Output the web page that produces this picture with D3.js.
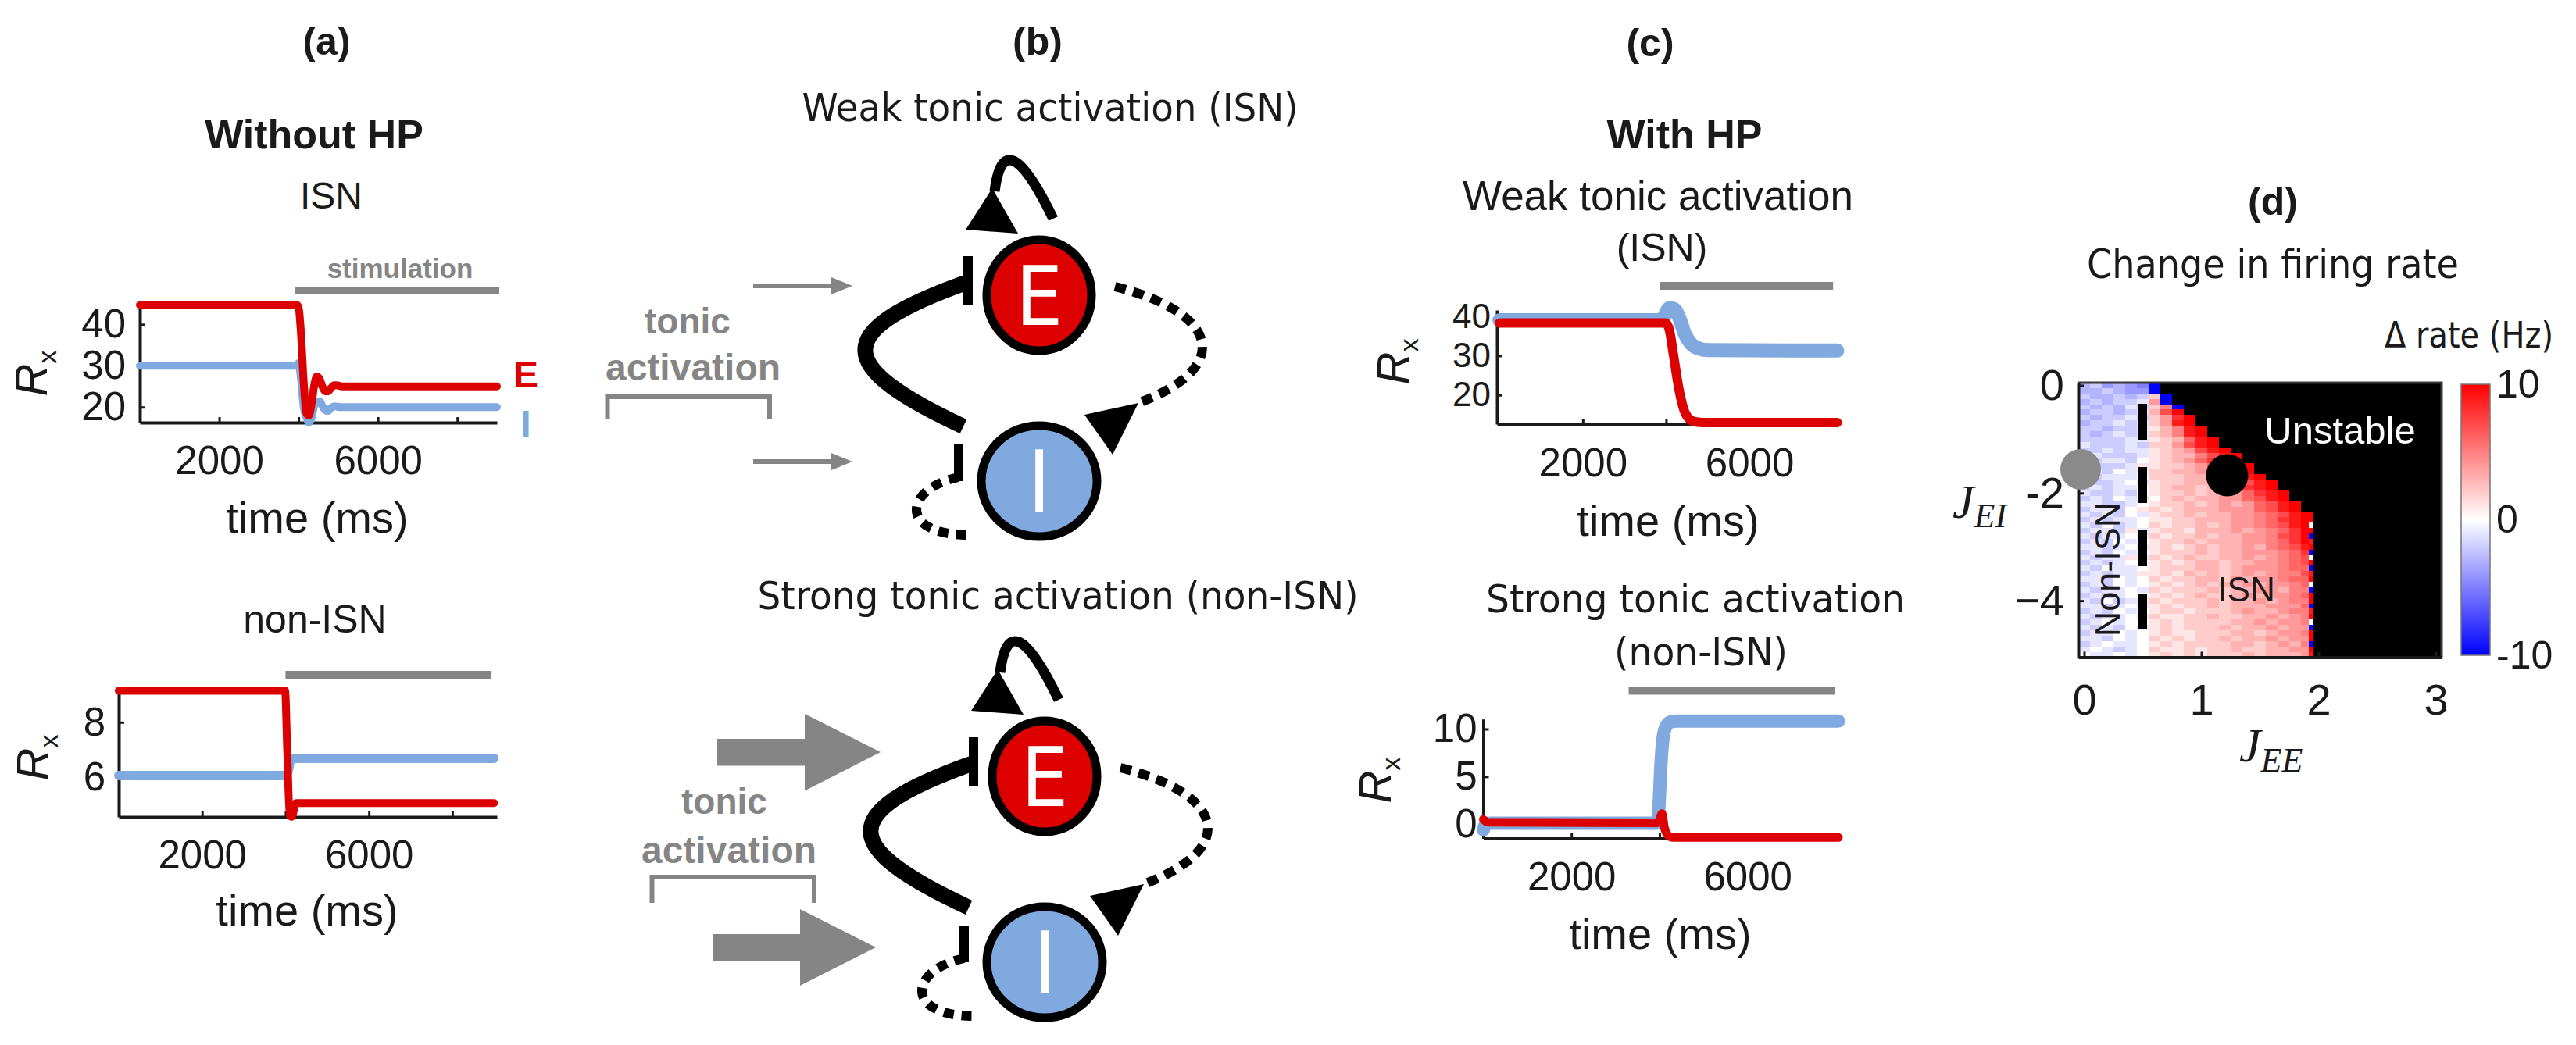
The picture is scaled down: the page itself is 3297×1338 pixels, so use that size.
<!DOCTYPE html>
<html lang="en">
<head>
<meta charset="utf-8">
<title>ISN / non-ISN figure</title>
<style>
  body { margin: 0; background: #fff; }
  svg { display: block; }
</style>
</head>
<body>
<svg id="fig"></svg>
<script src="https://cdn.jsdelivr.net/npm/d3@7"></script>
<script>
// ---------- data ----------
// x ticks shared by the four rate traces
var timeTicks = [2000, 4000, 6000, 8000];
var timeTickLabels = ["2000", "", "6000", ""];

// (a) without HP, ISN
var tA1 = [0, 3950, 4000, 4060, 4130, 4200, 4260, 4330, 4400, 4460, 4530, 4600, 4680, 4740, 4820, 4900, 4960, 5100, 5300, 9000];
var eA1 = [44.7, 44.7, 44.2, 38, 26, 18.5, 18, 21, 25.5, 27.4, 26.8, 25, 23.8, 23.8, 24.6, 25.3, 25.3, 25, 25, 25];
var iA1 = [30, 30, 30.6, 27, 20, 17.5, 16.3, 17.5, 20.5, 21.3, 21.4, 20.3, 19.2, 19.1, 19.8, 20.2, 20.1, 20, 20, 20];
var stimA1 = [3920, 9060];

// (a) without HP, non-ISN
var tA2E = [0, 3990, 4040, 4100, 4150, 4250, 9000];
var eA2 = [9.15, 9.15, 7, 4.6, 4.55, 5.05, 5.05];
var tA2I = [0, 4000, 4060, 4120, 4200, 9000];
var iA2 = [6.05, 6.05, 6.2, 6.6, 6.68, 6.68];
var stimA2 = [4000, 8940];

// (c) with HP, weak tonic activation
var tC1E = [0, 3990, 4080, 4180, 4300, 4420, 4550, 4700, 4900, 8110];
var eC1 = [38.3, 38.3, 36.5, 30, 22, 16.5, 14, 13.2, 13, 13];
var tC1I = [0, 3900, 3980, 4080, 4200, 4320, 4450, 4600, 4800, 5000, 8110];
var iC1 = [39, 39, 40.5, 42.1, 41.8, 39.5, 35.5, 33, 31.8, 31.4, 31.3];
var stimC1 = [3850, 8010];

// (c) with HP, strong tonic activation
var tC2E = [0, 100, 3950, 4010, 4060, 4110, 4200, 4300, 8064];
var eC2 = [0.5, 0.2, 0.15, 0.6, 1.1, -0.3, -1.2, -1.4, -1.4];
var tC2I = [0, 60, 150, 3950, 3990, 4030, 4080, 4150, 4250, 4400, 8064];
var iC2 = [-0.6, 0, 0.1, 0.1, 2, 6, 9, 10.3, 10.75, 10.85, 10.85];
var stimC2 = [3300, 7980];

// (d) change in firing rate, J_EE columns x J_EI rows
var jeeCols = [0, 0.1, 0.2, 0.3, 0.4, 0.5, 0.6, 0.7, 0.8, 0.9, 1.0, 1.1, 1.2, 1.3, 1.4, 1.5, 1.6, 1.7, 1.8, 1.9];
var jeiRows = [0, -0.1, -0.2, -0.3, -0.4, -0.5, -0.6, -0.7, -0.8, -0.9, -1.0, -1.1, -1.2, -1.3, -1.4, -1.5, -1.6, -1.7, -1.8, -1.9,
  -2.0, -2.1, -2.2, -2.3, -2.4, -2.5, -2.6, -2.7, -2.8, -2.9, -3.0, -3.1, -3.2, -3.3, -3.4, -3.5, -3.6, -3.7, -3.8, -3.9,
  -4.0, -4.1, -4.2, -4.3, -4.4, -4.5, -4.6, -4.7, -4.8, -4.9, -5.0];
// one string per row: 0-9 -> 0..9 Hz, A -> 10, a..j -> -1..-10; cells past the end are unstable
var rateRows = [
  "cbdcdej", "ccbcddj", "bccbcb2j", "cbcbba4j", "bcbcab25j", "cbbcba37A", "bcbbab248A", "cbbaba249A",
  "bbcbba1359A", "bcbaba2359A", "bbbbaa12369A", "abbbab22479A", "bbabaa123479A", "babbba1233579A",
  "bbaab01234689A", "abbba112234689A", "bab0a122334679A", "bbaaa0222334579A", "abba0a1223334579A",
  "babaa01233234689A", "abbab012232334689A", "bab0a102323344679A", "aabba0122323434679A",
  "baab01212333444679A", "abab0a1223233445679A", "babaa01122333445689A", "ab0ba02122323445679A",
  "baab1a1221333434568A", "abaa0a2122323344578A", "bab0a01223233344568A", "aaba0a12123233435679",
  "bab0a012223233444568", "abaa1a21232233434567", "baba0012123323344567", "ab0aa012223323444566",
  "babaa112132323434557", "aab0a021223324344566", "bab0a012123233434456", "abaa0a21222323344355",
  "baba0012123223434456", "ab0ba121222323343455", "aaba0a12122323334446", "bab0a012212223433455",
  "abaa0a21122322334345", "ba0a0012122223343445", "abab0a12122232334344", "baa0a012112223323445",
  "aab0a021212232334344", "ba0aa012122223323435", "a0aba021121223223344", "0aa0a012121222323334"
];
// thin column at the stability edge, rows 2.5 .. 5.0
var edgeRows = "A0Aj9Aj0Aj9A0jAAj9A0jAAjA9";
var jeeTicks = [0, 1, 2, 3];
var jeiTicks = [0, -2, -4];
var jeiTickLabels = ["0", "-2", "\u22124"];
var cbTicks = [-10, 0, 10];
var markerJEE = [1.22, -0.03];
var markerJEI = [-1.67, -1.56];

// ---------- setup ----------
var W = 3297, H = 1338;
var RED = "#dc0000", BLUE = "#80a9df", GREY = "#858585", INK = "#1a1a1a";
var SANS = "'Liberation Sans', Arial, Helvetica, sans-serif";
var NARROW = "'Liberation Sans Narrow', 'DejaVu Sans Condensed', 'Arial Narrow', sans-serif";
var SERIF = "'Liberation Serif', 'DejaVu Serif', serif";

var svg = d3.select("#fig").attr("width", W).attr("height", H).attr("viewBox", "0 0 " + W + " " + H);
svg.append("rect").attr("width", W).attr("height", H).attr("fill", "#fff");

function label(x, y, str, o) {
  o = o || {};
  var t = svg.append("text").attr("x", x).attr("y", y).text(str)
    .attr("text-anchor", o.anchor || "middle")
    .attr("font-family", o.family || SANS)
    .attr("font-size", o.size || 50)
    .attr("font-weight", o.weight || "normal")
    .attr("fill", o.fill || INK);
  if (o.len) t.attr("textLength", o.len).attr("lengthAdjust", "spacingAndGlyphs");
  return t;
}

function styleAxis(sel, fs) {
  sel.attr("font-family", SANS).attr("font-size", fs);
  sel.selectAll("text").attr("fill", INK);
  sel.select(".domain").attr("stroke", INK).attr("stroke-width", 4);
  sel.selectAll(".tick line").attr("stroke", INK).attr("stroke-width", 3);
}

// ---------- rate traces ----------
function tracePanel(p) {
  var x = d3.scaleLinear().domain(p.xDomain).range(p.xRange);
  var y = d3.scaleLinear().domain(p.yDomain).range(p.yRange);
  var g = svg.append("g");

  // stimulation bar
  g.append("line")
    .attr("x1", x(p.stim[0])).attr("x2", x(p.stim[1]))
    .attr("y1", p.stimY).attr("y2", p.stimY)
    .attr("stroke", GREY).attr("stroke-width", 10);

  var xa = g.append("g").attr("transform", "translate(0," + p.yRange[0] + ")")
    .call(d3.axisBottom(x).tickValues(timeTicks)
      .tickFormat(function(d, i) { return timeTickLabels[i]; })
      .tickSizeInner(-7).tickSizeOuter(0).tickPadding(p.xPad));
  var ya = g.append("g").attr("transform", "translate(" + p.xRange[0] + ",0)")
    .call(d3.axisLeft(y).tickValues(p.yTicks).tickFormat(d3.format("d"))
      .tickSizeInner(-7).tickSizeOuter(0).tickPadding(p.yPad));
  styleAxis(xa, 51);
  styleAxis(ya, p.yFont || 51);

  var line = d3.line()
    .x(function(d) { return x(d[0]); })
    .y(function(d) { return y(d[1]); })
    .curve(d3.curveMonotoneX);

  g.append("path").datum(d3.zip(p.tI, p.vI)).attr("d", line)
    .attr("fill", "none").attr("stroke", BLUE).attr("stroke-width", p.wI)
    .attr("stroke-linejoin", "round").attr("stroke-linecap", "round");
  g.append("path").datum(d3.zip(p.tE, p.vE)).attr("d", line)
    .attr("fill", "none").attr("stroke", RED).attr("stroke-width", p.wE)
    .attr("stroke-linejoin", "round").attr("stroke-linecap", "round");

  // R_x label
  var yl = svg.append("text")
    .attr("transform", "translate(" + p.ylab[0] + "," + p.ylab[1] + ") rotate(-90)")
    .attr("text-anchor", "middle").attr("font-family", SANS).attr("font-size", 58).attr("fill", INK);
  yl.append("tspan").attr("font-style", "italic").text("R");
  yl.append("tspan").attr("font-size", 34).attr("dy", 12).text("x");

  label(p.xlab[0], p.xlab[1], "time (ms)", { size: 56 });
}

tracePanel({ xDomain: [0, 9000], xRange: [179, 636], yDomain: [16.27, 44.4], yRange: [541, 392],
  yTicks: [20, 30, 40], xPad: 30, yPad: 18, stim: stimA1, stimY: 372,
  tE: tA1, vE: eA1, tI: tA1, vI: iA1, wE: 10, wI: 10, ylab: [60, 478], xlab: [406, 682] });
tracePanel({ xDomain: [0, 9070], xRange: [152, 636], yDomain: [4.54, 9.25], yRange: [1046, 881],
  yTicks: [6, 8], xPad: 30, yPad: 17, stim: stimA2, stimY: 864,
  tE: tA2E, vE: eA2, tI: tA2I, vI: iA2, wE: 10, wI: 12, ylab: [62, 970], xlab: [393, 1185] });
tracePanel({ xDomain: [-60, 8110], xRange: [1916, 2351.5], yDomain: [12.6, 41.6], yRange: [543, 397],
  yTicks: [20, 30, 40], yFont: 44, xPad: 31, yPad: 8, stim: stimC1, stimY: 366,
  tE: tC1E, vE: eC1, tI: tC1I, vI: iC1, wE: 12, wI: 18, ylab: [1803, 463], xlab: [2135, 686] });
tracePanel({ xDomain: [0, 8064], xRange: [1898.5, 2353], yDomain: [-1.5, 11.05], yRange: [1073.5, 920.7],
  yTicks: [0, 5, 10], xPad: 30, yPad: 8, stim: stimC2, stimY: 884.5,
  tE: tC2E, vE: eC2, tI: tC2I, vI: iC2, wE: 11, wI: 17, ylab: [1780, 999], xlab: [2125, 1215] });

// ---------- panel (a) texts ----------
label(418, 70, "(a)", { size: 50, weight: "bold" });
label(402, 190, "Without HP", { size: 52, weight: "bold" });
label(424, 267, "ISN", { size: 48 });
label(512, 356, "stimulation", { size: 35, weight: "bold", fill: GREY });
label(673, 496, "E", { size: 48, weight: "bold", fill: RED });
label(673, 559, "I", { size: 48, weight: "bold", fill: BLUE });
label(403, 810, "non-ISN", { size: 50 });

// ---------- panel (b): E-I schematics ----------
label(1328, 70, "(b)", { size: 50, weight: "bold" });
label(1344, 155, "Weak tonic activation (ISN)", { family: NARROW, size: 50, len: 635 });
label(1354, 780, "Strong tonic activation (non-ISN)", { family: NARROW, size: 50, len: 769 });

function schematic(cx, cy) {
  var iy = 238;
  var g = svg.append("g").attr("transform", "translate(" + cx + "," + cy + ")");
  // E -> E (excitatory self loop)
  g.append("path").attr("d", "M18,-98 Q-45,-228 -57,-133")
    .attr("fill", "none").attr("stroke", "#000").attr("stroke-width", 13);
  g.append("path").attr("d", "M-60,-137 L-94,-84 L-27,-79 Z").attr("fill", "#000");
  // I -> E (inhibitory, solid)
  g.append("path").attr("d", "M-97,168 C-260,92 -270,47 -94,-16")
    .attr("fill", "none").attr("stroke", "#000").attr("stroke-width", 20);
  g.append("line").attr("x1", -91).attr("x2", -91).attr("y1", -50).attr("y2", 13)
    .attr("stroke", "#000").attr("stroke-width", 12);
  // E -> I (excitatory, dashed)
  g.append("path").attr("d", "M97,-11 C230,22 250,92 127,138")
    .attr("fill", "none").attr("stroke", "#000").attr("stroke-width", 12).attr("stroke-dasharray", "14,10");
  g.append("path").attr("d", "M127,138 L58,153 L94,204 Z").attr("fill", "#000");
  // I -> I (inhibitory, dashed)
  var gi = g.append("g").attr("transform", "translate(0," + iy + ")");
  gi.append("path").attr("d", "M-103,-5 C-175,10 -180,70 -88,69")
    .attr("fill", "none").attr("stroke", "#000").attr("stroke-width", 12).attr("stroke-dasharray", "13,10");
  gi.append("line").attr("x1", -103).attr("x2", -103).attr("y1", -47).attr("y2", 0)
    .attr("stroke", "#000").attr("stroke-width", 12);
  // populations
  g.append("ellipse").attr("rx", 67).attr("ry", 71).attr("fill", RED).attr("stroke", "#000").attr("stroke-width", 11);
  gi.append("ellipse").attr("rx", 74).attr("ry", 71).attr("fill", BLUE).attr("stroke", "#000").attr("stroke-width", 11);
  g.append("text").attr("y", 38).attr("text-anchor", "middle").attr("font-family", NARROW)
    .attr("font-size", 106).attr("fill", "#fff").text("E");
  gi.append("text").attr("y", 40).attr("text-anchor", "middle").attr("font-family", NARROW)
    .attr("font-size", 110).attr("fill", "#fff").text("I");
}
schematic(1330, 378);
schematic(1337, 994);

// weak tonic input arrows
[366, 591].forEach(function(yy) {
  svg.append("line").attr("x1", 964).attr("x2", 1070).attr("y1", yy).attr("y2", yy)
    .attr("stroke", GREY).attr("stroke-width", 6);
  svg.append("path").attr("d", "M1091," + yy + " L1064," + (yy - 11) + " L1064," + (yy + 11) + " Z").attr("fill", GREY);
});
// strong tonic input arrows
svg.append("path").attr("d", "M918,946 H1030 V914 L1127,963 L1030,1012.5 V980.5 H918 Z").attr("fill", GREY);
svg.append("path").attr("d", "M913,1196 H1024 V1164 L1121,1213 L1024,1262 V1230 H913 Z").attr("fill", GREY);
// brackets + labels
svg.append("path").attr("d", "M777.5,536 V508 H985 V536").attr("fill", "none").attr("stroke", GREY).attr("stroke-width", 6);
svg.append("path").attr("d", "M834.5,1156 V1123 H1042 V1156").attr("fill", "none").attr("stroke", GREY).attr("stroke-width", 6);
label(880, 427, "tonic", { size: 46, weight: "bold", fill: GREY });
label(887, 487, "activation", { size: 48, weight: "bold", fill: GREY });
label(927, 1042, "tonic", { size: 46, weight: "bold", fill: GREY });
label(933, 1105, "activation", { size: 48, weight: "bold", fill: GREY });

// ---------- panel (c) texts ----------
label(2112, 72, "(c)", { size: 50, weight: "bold" });
label(2156, 190, "With HP", { size: 52, weight: "bold" });
label(2122, 269, "Weak tonic activation", { size: 53 });
label(2127, 334, "(ISN)", { size: 50 });
label(2170, 784, "Strong tonic activation", { family: NARROW, size: 50, len: 536 });
label(2177, 852, "(non-ISN)", { family: NARROW, size: 50, len: 222 });

// ---------- panel (d): heat map ----------
label(2909, 275, "(d)", { size: 50, weight: "bold" });
label(2909, 356, "Change in firing rate", { family: NARROW, size: 52, len: 476 });
label(3160, 445, "\u0394 rate (Hz)", { family: NARROW, size: 46, len: 216 });

var xD = d3.scaleLinear().domain([-0.05, 3.05]).range([2660, 3125]);
var yD = d3.scaleLinear().domain([0.05, -5.05]).range([490, 841.5]);
var rateColor = d3.scaleLinear().domain([-10, 0, 10]).range(["#0000ff", "#ffffff", "#ff0000"]);

function decode(ch) {
  if (ch === "A") return 10;
  if (ch >= "0" && ch <= "9") return +ch;
  return -("abcdefghij".indexOf(ch) + 1);
}

var cells = [];
rateRows.forEach(function(row, r) {
  row.split("").forEach(function(ch, c) {
    cells.push({ jee: jeeCols[c], jei: jeiRows[r], v: decode(ch) });
  });
});

var gD = svg.append("g");
gD.append("rect").attr("x", xD(-0.05)).attr("y", yD(0.05))
  .attr("width", xD(3.05) - xD(-0.05)).attr("height", yD(-5.05) - yD(0.05)).attr("fill", "#000");
var cw = xD(0.1) - xD(0), ch = yD(-0.1) - yD(0);
gD.selectAll("rect.cell").data(cells).join("rect").attr("class", "cell")
  .attr("x", function(d) { return xD(d.jee - 0.05); })
  .attr("y", function(d) { return yD(d.jei + 0.05); })
  .attr("width", cw + 0.4).attr("height", ch + 0.4)
  .attr("fill", function(d) { return rateColor(d.v); })
  .attr("shape-rendering", "crispEdges");
var edge = edgeRows.split("").map(function(c, k) { return { jei: jeiRows[25 + k], v: decode(c) }; });
gD.selectAll("rect.edge").data(edge).join("rect").attr("class", "edge")
  .attr("x", xD(1.917)).attr("width", xD(1.95) - xD(1.917))
  .attr("y", function(d) { return yD(d.jei + 0.05); }).attr("height", ch + 0.4)
  .attr("fill", function(d) { return rateColor(d.v); })
  .attr("shape-rendering", "crispEdges");

// box top/right
gD.append("path").attr("d", "M" + xD(-0.05) + "," + yD(0.05) + " H" + xD(3.05) + " V" + yD(-5.05))
  .attr("fill", "none").attr("stroke", "#3a3a3a").attr("stroke-width", 3);

// non-ISN / ISN boundary
gD.append("line").attr("x1", xD(0.5)).attr("x2", xD(0.5)).attr("y1", yD(-0.34)).attr("y2", yD(-4.56))
  .attr("stroke", "#000").attr("stroke-width", 11).attr("stroke-dasharray", "46,35");

var xaD = gD.append("g").attr("transform", "translate(0," + yD(-5.05) + ")")
  .call(d3.axisBottom(xD).tickValues(jeeTicks).tickFormat(d3.format("d"))
    .tickSizeInner(-7).tickSizeOuter(0).tickPadding(34));
var yaD = gD.append("g").attr("transform", "translate(" + xD(-0.05) + ",0)")
  .call(d3.axisLeft(yD).tickValues(jeiTicks).tickFormat(function(d, i) { return jeiTickLabels[i]; })
    .tickSizeInner(-7).tickSizeOuter(0).tickPadding(18));
styleAxis(xaD, 56);
styleAxis(yaD, 56);

label(2995, 568, "Unstable", { size: 49, fill: "#fff" });
label(2875, 770, "ISN", { size: 44 });
svg.append("text").attr("transform", "translate(2713,729) rotate(-90)").attr("text-anchor", "middle")
  .attr("font-family", SANS).attr("font-size", 45).attr("fill", INK).text("Non-ISN");

// example network markers
var markerFill = ["#000", "#8a8a8a"];
gD.selectAll("circle.mk").data(markerJEE).join("circle").attr("class", "mk")
  .attr("cx", function(d) { return xD(d); })
  .attr("cy", function(d, i) { return yD(markerJEI[i]); })
  .attr("r", function(d, i) { return i === 0 ? 27 : 26; })
  .attr("fill", function(d, i) { return markerFill[i]; });

// axis labels J_EI, J_EE
var jl = svg.append("text").attr("x", 2499).attr("y", 663).attr("font-family", SERIF)
  .attr("font-style", "italic").attr("font-size", 62).attr("fill", INK);
jl.append("tspan").text("J");
jl.append("tspan").attr("font-size", 44).attr("dy", 12).text("EI");
var jx = svg.append("text").attr("x", 2866).attr("y", 975).attr("font-family", SERIF)
  .attr("font-style", "italic").attr("font-size", 62).attr("fill", INK);
jx.append("tspan").text("J");
jx.append("tspan").attr("font-size", 44).attr("dy", 13).text("EE");

// colour bar
var cbY = d3.scaleLinear().domain([-10, 10]).range([839, 492]);
var grad = svg.append("defs").append("linearGradient").attr("id", "cbgrad")
  .attr("x1", 0).attr("y1", 1).attr("x2", 0).attr("y2", 0);
grad.selectAll("stop").data(cbTicks).join("stop")
  .attr("offset", function(d) { return (d + 10) / 20; })
  .attr("stop-color", function(d) { return rateColor(d); });
svg.append("rect").attr("x", 3150).attr("y", cbY(10)).attr("width", 37).attr("height", cbY(-10) - cbY(10))
  .attr("fill", "url(#cbgrad)").attr("stroke", "#777").attr("stroke-width", 1.5);
var cbA = svg.append("g").attr("transform", "translate(3187,0)")
  .call(d3.axisRight(cbY).tickValues(cbTicks).tickFormat(d3.format("d")).tickSize(0).tickPadding(8));
cbA.attr("font-family", SANS).attr("font-size", 50);
cbA.select(".domain").remove();
cbA.selectAll("text").attr("fill", INK).text(function(d) { return d < 0 ? "-" + Math.abs(d) : d; });
</script>
</body>
</html>
